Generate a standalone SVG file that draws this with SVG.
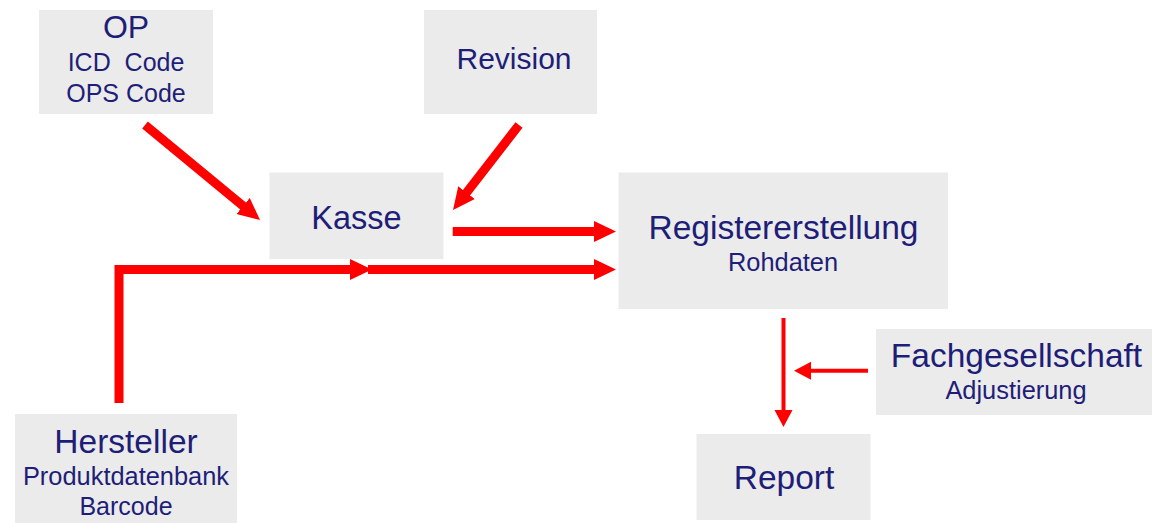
<svg xmlns="http://www.w3.org/2000/svg" width="1154" height="523" viewBox="0 0 1154 523">
<style>
.box{fill:#ebebeb}
text{font-family:"Liberation Sans",Arial,sans-serif;fill:#1e1e78;text-anchor:middle}
.big{font-size:33.5px}
.sm{font-size:25.4px}
.thick{fill:none;stroke:#ff0000;stroke-width:9;stroke-linejoin:miter;stroke-linecap:butt}
.thin{fill:none;stroke:#ff0000;stroke-width:4;stroke-linecap:butt}
</style>
<defs>
<marker id="hb" markerUnits="userSpaceOnUse" viewBox="0 -11 23 22" refX="2" refY="0" markerWidth="23" markerHeight="22" orient="auto">
<path d="M0,-10.5 L22,0 L0,10.5 z" fill="#ff0000"/>
</marker>
<marker id="hs" markerUnits="userSpaceOnUse" viewBox="0 -9.5 18 19" refX="2" refY="0" markerWidth="18" markerHeight="19" orient="auto">
<path d="M0,-9 L17,0 L0,9 z" fill="#ff0000"/>
</marker>
</defs>
<rect width="1154" height="523" fill="#ffffff"/>
<g id="op">
<rect class="box" x="39" y="10" width="174" height="104"/>
<text x="126" y="38" style="font-size:32px">OP</text>
<text x="126" y="71" style="font-size:25px" xml:space="preserve">ICD  Code</text>
<text x="126" y="102" style="font-size:25px">OPS Code</text>
</g>
<g id="revision">
<rect class="box" x="424" y="10" width="173" height="104"/>
<text x="514" y="69" style="font-size:30px">Revision</text>
</g>
<g id="kasse">
<rect class="box" x="269.5" y="172.5" width="174" height="86.5"/>
<text x="356.5" y="229" style="font-size:32.5px">Kasse</text>
</g>
<g id="register">
<rect class="box" x="618.5" y="172.5" width="329.5" height="136.5"/>
<text class="big" x="783.5" y="239">Registererstellung</text>
<text class="sm" x="783" y="271">Rohdaten</text>
</g>
<g id="fachgesellschaft">
<rect class="box" x="876" y="329" width="276" height="86"/>
<text class="big" x="1016.5" y="367">Fachgesellschaft</text>
<text class="sm" x="1016" y="399">Adjustierung</text>
</g>
<g id="report">
<rect class="box" x="696.5" y="434" width="174" height="86"/>
<text class="big" x="784" y="489">Report</text>
</g>
<g id="hersteller">
<rect class="box" x="15" y="414" width="222" height="109"/>
<text class="big" x="126" y="453">Hersteller</text>
<text class="sm" x="126" y="485">Produktdatenbank</text>
<text x="126" y="515" style="font-size:25px">Barcode</text>
</g>
<g id="connectors">
<path class="thick" d="M145,125 L244.6,207.3" marker-end="url(#hb)"/>
<path class="thick" d="M519,125 L465.3,194.2" marker-end="url(#hb)"/>
<path class="thick" d="M452.7,231.5 L596,231.5" marker-end="url(#hb)"/>
<path class="thick" d="M119,403 L119,269.5 L352,269.5" marker-end="url(#hb)"/>
<path class="thick" d="M368,269.5 L596,269.5" marker-end="url(#hb)"/>
<path class="thin" d="M783.5,318 L783.5,412" marker-end="url(#hs)"/>
<path class="thin" d="M868,370.7 L809,370.7" marker-end="url(#hs)"/>
</g>
</svg>
